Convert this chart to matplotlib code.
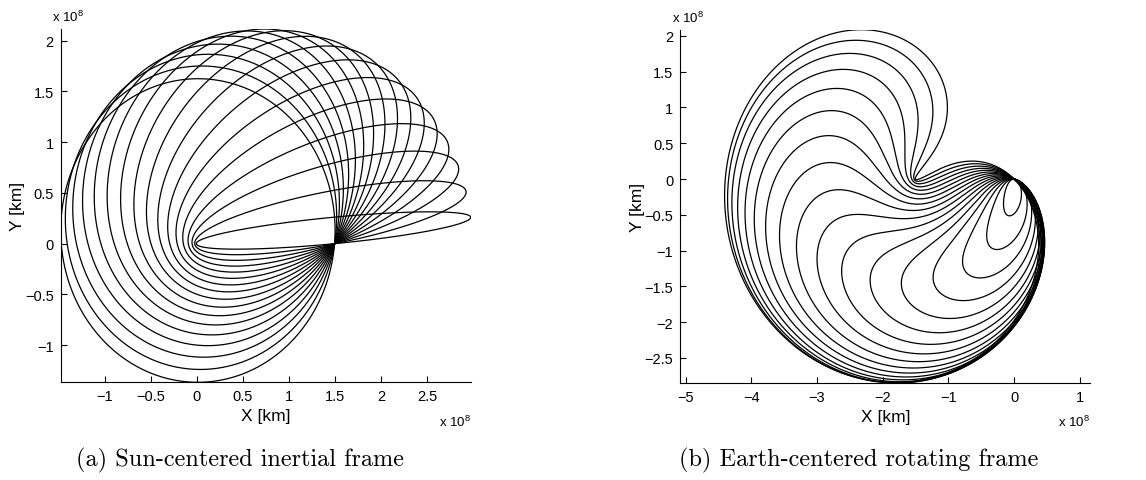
import numpy as np
import matplotlib
matplotlib.use('Agg')
import matplotlib.pyplot as plt
from matplotlib.ticker import FixedLocator, FuncFormatter

plt.rcParams['font.family'] = ['Liberation Sans', 'DejaVu Sans']
plt.rcParams['mathtext.default'] = 'regular'

AU_KM = 1.496e8

# departure direction measured from the Sun-Earth line (deg); speed = Earth's
launch_angle_deg = [5, 10, 15, 20, 25, 30, 35, 40, 45, 50, 55, 60, 65, 70, 75, 80, 85]

left_xticks = [-1, -0.5, 0, 0.5, 1, 1.5, 2, 2.5]
left_yticks = [-1, -0.5, 0, 0.5, 1, 1.5, 2]
right_xticks = [-5, -4, -3, -2, -1, 0, 1]
right_yticks = [-2.5, -2, -1.5, -1, -0.5, 0, 0.5, 1, 1.5, 2]
right_xlim = (-5.08, 1.16)
captions = ['(a) Sun-centered inertial frame', '(b) Earth-centered rotating frame']


def orbit(gamma_deg, n=4000):
    # one full period of a 1 AU orbit that leaves Earth at angle gamma
    g = np.radians(gamma_deg)
    e = np.cos(g)
    w = np.pi + g
    E = np.linspace(np.pi / 2, np.pi / 2 + 2 * np.pi, n)
    xp = np.cos(E) - e
    yp = np.sin(g) * np.sin(E)
    x = xp * np.cos(w) - yp * np.sin(w)
    y = xp * np.sin(w) + yp * np.cos(w)
    # Earth's angle since departure (same mean motion)
    th = (E - e * np.sin(E)) - (np.pi / 2 - e)
    dx = x - np.cos(th)
    dy = y - np.sin(th)
    xr = dx * np.cos(th) + dy * np.sin(th)
    yr = -dx * np.sin(th) + dy * np.cos(th)
    return x * AU_KM, y * AU_KM, xr * AU_KM, yr * AU_KM


fig = plt.figure(figsize=(11.46, 4.81), dpi=100)
ax1 = fig.add_axes([60.7 / 1146, 1 - 383.3 / 481, 410 / 1146, 353.3 / 481])
ax2 = fig.add_axes([680.3 / 1146, 1 - 384 / 481, 410 / 1146, 353.3 / 481])

xs, ys, yrs = [], [], []
for gam in launch_angle_deg:
    x, y, xr, yr = orbit(gam)
    ax1.plot(x, y, 'k-', lw=0.9)
    ax2.plot(xr, yr, 'k-', lw=0.9)
    xs.append(x); ys.append(y); yrs.append(yr)

xs = np.concatenate(xs); ys = np.concatenate(ys)
yrs = np.concatenate(yrs)
ax1.set_xlim(xs.min(), xs.max())
ax1.set_ylim(ys.min(), ys.max())
ax2.set_xlim(right_xlim[0] * 1e8, right_xlim[1] * 1e8)
ax2.set_ylim(yrs.min(), yrs.max())

fmt = FuncFormatter(lambda v, p: ('%g' % round(v / 1e8, 2)).replace('-', '\u2212'))
for ax, xt, yt in [(ax1, left_xticks, left_yticks), (ax2, right_xticks, right_yticks)]:
    ax.xaxis.set_major_locator(FixedLocator(np.array(xt) * 1e8))
    ax.yaxis.set_major_locator(FixedLocator(np.array(yt) * 1e8))
    ax.xaxis.set_major_formatter(fmt)
    ax.yaxis.set_major_formatter(fmt)
    ax.spines['top'].set_visible(False)
    ax.spines['right'].set_visible(False)
    ax.spines['left'].set_linewidth(0.8)
    ax.spines['bottom'].set_linewidth(0.8)
    ax.tick_params(direction='in', length=4, width=0.8, labelsize=10.5, pad=5)
    ax.set_xlabel('X [km]', fontsize=12.5, va='center')
    ax.set_ylabel('Y [km]', fontsize=12.5, va='center')
    ax.xaxis.set_label_coords(0.5, -0.095)
    ax.yaxis.set_label_coords(-0.105, 0.5)
    ax.text(-0.02, 1.035, 'x 10$^{8}$', transform=ax.transAxes, fontsize=9.5,
            ha='left', va='center')
    ax.text(1.0, -0.11, 'x 10$^{8}$', transform=ax.transAxes, fontsize=9.5,
            ha='right', va='center')

fig.text(240 / 1146, 1 - 460 / 481, captions[0], family=['cmr10', 'DejaVu Serif'],
         fontsize=17.5, ha='center', va='center')
fig.text(859 / 1146, 1 - 460 / 481, captions[1], family=['cmr10', 'DejaVu Serif'],
         fontsize=17.5, ha='center', va='center')

fig.savefig('out.png', dpi=100)
